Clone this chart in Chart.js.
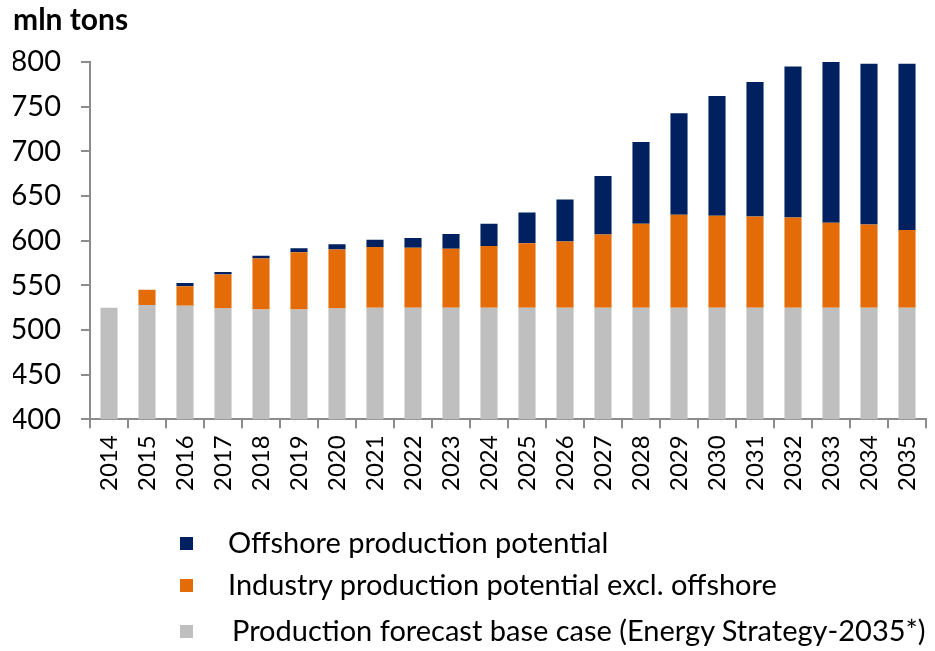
<!DOCTYPE html>
<html>
<head>
<meta charset="utf-8">
<script src="https://cdn.jsdelivr.net/npm/chart.js@4.4.1/dist/chart.umd.min.js"></script>
<style>
  body { margin: 0; background: #fff; }
  #wrap { position: relative; width: 935px; height: 651px; }
  #chart { position: absolute; left: 0; top: 0; }
  .leg { position: absolute; font-family: Lato, sans-serif; font-size: 29px; color: #000; white-space: nowrap; }
  .box { position: absolute; width: 13px; height: 13px; }
</style>
</head>
<body>
<div id="wrap">
  <canvas id="chart" width="935" height="651"></canvas>
  <div id="legend"></div>
</div>
<script>
var years = ["2014", "2015", "2016", "2017", "2018", "2019", "2020", "2021", "2022", "2023", "2024",
             "2025", "2026", "2027", "2028", "2029", "2030", "2031", "2032", "2033", "2034", "2035"];

// base case forecast (grey), industry potential excl. offshore (orange), offshore potential (navy)
var baseCase = [525, 528, 527, 524, 523, 523, 524, 525, 525, 525, 525, 525, 525, 525, 525, 525, 525, 525, 525, 525, 525, 525];
var industry = [null, 17, 22, 38, 57, 64, 66, 68, 67, 66, 69, 72, 74, 82, 94, 104, 103, 102, 101, 95, 93, 87];
var offshore = [null, null, 3.5, 3, 3, 4.5, 6, 8, 11, 16.5, 25, 34.5, 47, 65.5, 91.5, 113.5, 134, 150.5, 169, 180, 180, 186];

var yTicks = [400, 450, 500, 550, 600, 650, 700, 750, 800];

var seriesNames = ["Offshore production potential",
                   "Industry production potential excl. offshore",
                   "Production forecast base case (Energy Strategy-2035*)"];
var seriesColors = ["#002060", "#E36C09", "#BFBFBF"];

var axisColor = "#8c8c8c";

new Chart(document.getElementById("chart"), {
  type: 'bar',
  data: {
    labels: years,
    datasets: [
      { label: seriesNames[2], data: baseCase, backgroundColor: seriesColors[2] },
      { label: seriesNames[1], data: industry, backgroundColor: seriesColors[1] },
      { label: seriesNames[0], data: offshore, backgroundColor: seriesColors[0] }
    ]
  },
  options: {
    responsive: false,
    animation: false,
    layout: { padding: { left: 13, right: 9, top: 2, bottom: 153 } },
    datasets: { bar: { categoryPercentage: 1, barPercentage: 0.45 } },
    plugins: {
      legend: { display: false },
      tooltip: { enabled: false },
      title: {
        display: true,
        text: 'mln tons',
        align: 'start',
        color: '#000',
        font: { family: 'Lato', size: 30, weight: 'bold' },
        padding: { top: 0, bottom: 24 }
      }
    },
    scales: {
      x: {
        stacked: true,
        afterFit: function (axis) { axis.paddingLeft = 0; axis.paddingRight = 0; },
        border: { color: axisColor, width: 2 },
        grid: { drawOnChartArea: false, drawTicks: true, tickLength: 9, color: axisColor, lineWidth: 2 },
        ticks: {
          color: '#000',
          font: { family: 'Lato', size: 24 },
          minRotation: 90,
          maxRotation: 90,
          padding: 7,
          autoSkip: false
        }
      },
      y: {
        stacked: true,
        min: 400,
        max: 800,
        afterBuildTicks: function (axis) {
          axis.ticks = yTicks.map(function (v) { return { value: v }; });
        },
        afterFit: function (axis) { axis.width = 77; },
        border: { color: axisColor, width: 2 },
        grid: { drawOnChartArea: false, drawTicks: true, tickLength: 9, color: axisColor, lineWidth: 2 },
        ticks: {
          color: '#000',
          font: { family: 'Lato', size: 29 },
          padding: 20
        }
      }
    }
  }
});

// legend, stacked vertically as in the original
var legend = document.getElementById("legend");
var legendY = [543, 585, 631];
var textX = [228, 228, 232];
for (var i = 0; i < seriesNames.length; i++) {
  var box = document.createElement("div");
  box.className = "box";
  box.style.left = "180px";
  box.style.top = (legendY[i] - 6) + "px";
  box.style.background = seriesColors[i];
  legend.appendChild(box);

  var txt = document.createElement("div");
  txt.className = "leg";
  txt.style.left = textX[i] + "px";
  txt.style.top = (legendY[i] - 18) + "px";
  txt.style.lineHeight = "34px";
  txt.textContent = seriesNames[i];
  legend.appendChild(txt);
}
</script>
</body>
</html>
